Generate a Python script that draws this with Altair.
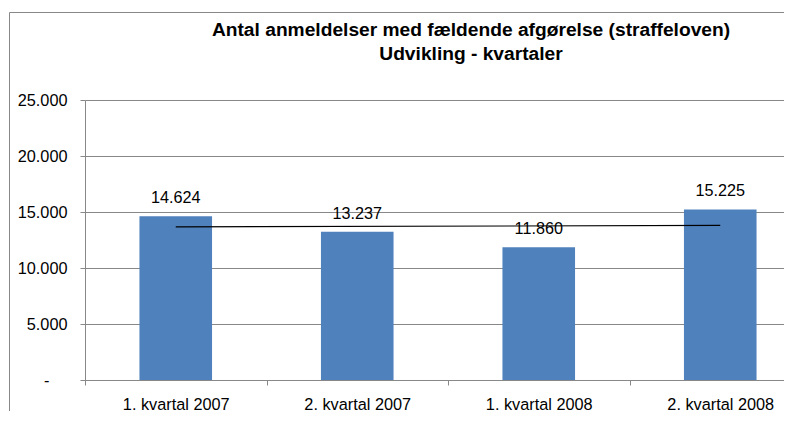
import altair as alt
import pandas as pd

categories = ["1. kvartal 2007", "2. kvartal 2007", "1. kvartal 2008", "2. kvartal 2008"]
values = [14624, 13237, 11860, 15225]
positions = [1, 2, 3, 4]
y_ticks = [0, 5000, 10000, 15000, 20000, 25000]
title_lines = ["Antal anmeldelser med fældende afgørelse (straffeloven)", "Udvikling - kvartaler"]

df = pd.DataFrame({"kvartal": categories, "antal": values, "pos": positions})
frame_df = pd.DataFrame({"k": [0]})

FONT = "Liberation Sans"
GRID = "#888888"
BAR = "#4F81BD"
BAND_RANGE = [0, 726]
NUM = "replace(format(datum.value, ','), ',', '.')"

x_axis = alt.Axis(
    labelAngle=0, tickBand="extent", domainColor=GRID, tickColor=GRID, tickSize=5,
    labelPadding=11, labelFont=FONT, labelFontSize=16.3, labelColor="#000000", grid=False,
)
x_band = alt.X("kvartal:N", sort=categories, title=None,
               scale=alt.Scale(range=BAND_RANGE, paddingInner=0, paddingOuter=0),
               axis=x_axis)

y_axis = alt.Axis(
    values=y_ticks, labelExpr="datum.value == 0 ? '-' : " + NUM,
    grid=True, gridColor=GRID, domainColor=GRID, tickColor=GRID, tickSize=5,
    labelPadding={"condition": {"test": "datum.value === 0", "value": 31}, "value": 13},
    labelFont=FONT, labelFontSize=16.3, labelColor="#000000",
)
y_enc = alt.Y("antal:Q", title=None, scale=alt.Scale(domain=[0, 25000], nice=False), axis=y_axis)

bars = alt.Chart(df).mark_bar(color=BAR, width=alt.RelativeBandSize(0.4)).encode(x=x_band, y=y_enc)

labels = alt.Chart(df).transform_calculate(
    label="replace(format(datum.antal, ','), ',', '.')"
).mark_text(dy=-13, baseline="alphabetic", fontSize=16.2, font=FONT, color="#000000").encode(
    x=x_band, y=y_enc, text="label:N"
)

trend = alt.Chart(df).transform_regression("pos", "antal").mark_line(
    color="#000000", strokeWidth=1.2
).encode(
    x=alt.X("pos:Q", scale=alt.Scale(domain=[0.5, 4.5], range=BAND_RANGE), axis=None),
    y=y_enc,
)

border_left = alt.Chart(frame_df).mark_rule(color=GRID, strokeWidth=1).encode(
    x=alt.value(-75.5), y=alt.value(-87.5), y2=alt.value(400)
)
border_top = alt.Chart(frame_df).mark_rule(color=GRID, strokeWidth=1).encode(
    y=alt.value(-87.5), x=alt.value(-75.5), x2=alt.value(800)
)

main = alt.layer(bars, labels)

chart = alt.layer(main, trend, border_left, border_top).resolve_scale(
    x="independent"
).properties(
    width=699,
    height=280,
    padding={"left": 77, "top": 92, "right": 0, "bottom": 31},
    autosize=alt.AutoSizeParams(type="none"),
    title=alt.TitleParams(
        text=title_lines, font=FONT, fontSize=19.2, fontWeight="bold", color="#000000",
        anchor="middle", lineHeight=23.5, dx=36.5, dy=52, offset=0,
    ),
).configure_view(strokeWidth=0)

chart.save("out.html", embed_options={"renderer": "svg", "actions": False})
